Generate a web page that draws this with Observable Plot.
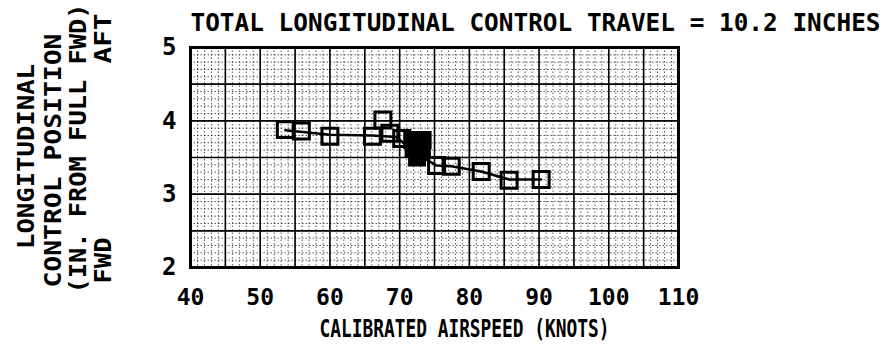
<!DOCTYPE html>
<html>
<head>
<meta charset="utf-8">
<script src="https://cdn.jsdelivr.net/npm/d3@7"></script>
<script src="https://cdn.jsdelivr.net/npm/@observablehq/plot@0.6"></script>
<style>
  html, body { margin: 0; padding: 0; background: #fff; }
  #chart svg { display: block; }
</style>
</head>
<body>
<div id="chart"></div>
<script>
// Longitudinal control position vs calibrated airspeed
const titleText = "TOTAL LONGITUDINAL CONTROL TRAVEL = 10.2 INCHES";
const xTitle = "CALIBRATED AIRSPEED (KNOTS)";
const yTitleLines = ["LONGITUDINAL", "CONTROL POSITION", "(IN. FROM FULL FWD)"];
const yDirFwd = "FWD";
const yDirAft = "AFT";

const xTicks = [40, 50, 60, 70, 80, 90, 100, 110];
const yTicks = [2, 3, 4, 5];

// open symbols
const openSpeed = [53.6, 55.9, 60.0, 66.1, 67.6, 68.6, 70.3, 75.3, 77.4, 81.7, 85.7, 90.3];
const openPos   = [3.88, 3.86, 3.79, 3.79, 4.01, 3.83, 3.76, 3.39, 3.38, 3.31, 3.19, 3.20];

// solid symbols
const solidSpeed = [71.8, 73.3, 72.0, 73.2, 72.5];
const solidPos   = [3.74, 3.74, 3.62, 3.60, 3.50];

// faired curve
const fairSpeed = [53.6, 60.0, 66.0, 69.5, 72.5, 75.3, 77.4, 81.7, 85.7, 90.3];
const fairPos   = [3.87, 3.81, 3.80, 3.78, 3.55, 3.39, 3.38, 3.31, 3.20, 3.20];

const openPts  = openSpeed.map((s, i) => ({speed: s, pos: openPos[i]}));
const solidPts = solidSpeed.map((s, i) => ({speed: s, pos: solidPos[i]}));
const fairPts  = fairSpeed.map((s, i) => ({speed: s, pos: fairPos[i]}));

const majorX = d3.range(40, 110.001, 5);
const majorY = d3.range(2, 5.001, 0.5);
const minorX = d3.range(40, 110.001, 1);
const minorY = d3.range(2, 5.001, 0.1);

const font = "DejaVu Sans Mono";

const chart = Plot.plot({
  width: 886,
  height: 347,
  marginLeft: 190,
  marginRight: 208,
  marginTop: 47,
  marginBottom: 80,
  style: {fontFamily: font, fontWeight: "bold", background: "#fff", color: "#000"},
  x: {domain: [40, 110]},
  y: {domain: [2, 5]},
  marks: [
    Plot.gridX(minorX, {stroke: "#000", strokeOpacity: 0.65, strokeWidth: 1, strokeDasharray: "1.5,2"}),
    Plot.gridY(minorY, {stroke: "#000", strokeOpacity: 0.65, strokeWidth: 1, strokeDasharray: "1.5,2"}),
    Plot.gridX(majorX, {stroke: "#000", strokeOpacity: 1, strokeWidth: 1.6}),
    Plot.gridY(majorY, {stroke: "#000", strokeOpacity: 1, strokeWidth: 1.6}),
    Plot.frame({stroke: "#000", strokeWidth: 3}),
    Plot.axisX(xTicks, {tickSize: 0, tickPadding: 21, fontSize: 23, fontWeight: "bold", label: null, tickFormat: (d) => String(d)}),
    Plot.axisY(yTicks, {tickSize: 0, tickPadding: 14, fontSize: 24, fontWeight: "bold", label: null, tickFormat: (d) => String(d)}),
    Plot.line(fairPts, {x: "speed", y: "pos", stroke: "#000", strokeWidth: 2.5}),
    Plot.dot(solidPts, {x: "speed", y: "pos", symbol: "square", r: 9, fill: "#000", stroke: "#000", strokeWidth: 2}),
    Plot.dot(openPts, {x: "speed", y: "pos", symbol: "square", r: 9, fill: "none", stroke: "#000", strokeWidth: 3}),
    Plot.text([titleText], {frameAnchor: "top-left", textAnchor: "start", lineAnchor: "bottom", dy: -17, fontSize: 24}),
    Plot.text([xTitle], {frameAnchor: "bottom", textAnchor: "middle", lineAnchor: "bottom", dx: 30, dy: 69, fontSize: 24}),
    Plot.text([yTitleLines[0]], {frameAnchor: "left", rotate: -90, textAnchor: "middle", lineAnchor: "bottom", dx: -157, dy: -1, fontSize: 23}),
    Plot.text([yTitleLines[1]], {frameAnchor: "left", rotate: -90, textAnchor: "middle", lineAnchor: "bottom", dx: -130, dy: 3, fontSize: 23}),
    Plot.text([yTitleLines[2]], {frameAnchor: "left", rotate: -90, textAnchor: "middle", lineAnchor: "bottom", dx: -105, dy: -9, fontSize: 23}),
    Plot.text([yDirFwd], {frameAnchor: "bottom-left", rotate: -90, textAnchor: "middle", lineAnchor: "bottom", dx: -80, dy: -7, fontSize: 23}),
    Plot.text([yDirAft], {frameAnchor: "top-left", rotate: -90, textAnchor: "middle", lineAnchor: "bottom", dx: -80, dy: -9, fontSize: 23})
  ]
});

// fit the stencil lettering to its lengths
const textLengths = new Map([
  [titleText, 690],
  [xTitle, 290],
  [yTitleLines[0], 185],
  [yTitleLines[1], 254],
  [yTitleLines[2], 290],
  [yDirFwd, 46],
  [yDirAft, 50]
]);
d3.select(chart).selectAll("text").each(function () {
  const len = textLengths.get(this.textContent);
  if (len) {
    this.setAttribute("textLength", len);
    this.setAttribute("lengthAdjust", "spacingAndGlyphs");
  }
});

document.getElementById("chart").appendChild(chart);
</script>
</body>
</html>
